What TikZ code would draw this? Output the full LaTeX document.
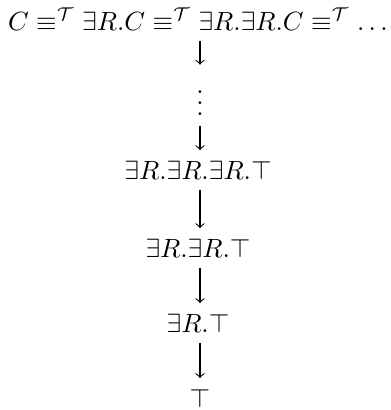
\documentclass[tikz,border=0pt]{standalone}
\begin{document}
\begin{tikzpicture}[x=0.379pt,y=-0.379pt,
  term/.style={anchor=base,inner sep=3.8pt},
  reduce/.style={->,line width=0.4pt}]
\useasboundingbox (0,0) rectangle (391,410);
% chain of equivalent concepts
\node[term] (eq) at (198,30) {$C \equiv^{\mathcal{T}} \exists R.C \equiv^{\mathcal{T}} \exists R.\exists R.C \equiv^{\mathcal{T}} \ldots$};
% descending sequence of generalisations
\node[term] (dots) at (200,115) {$\vdots$};
\node[term] (r3) at (198,179) {$\exists R.\exists R.\exists R.\top$};
\node[term] (r2) at (198,257) {$\exists R.\exists R.\top$};
\node[term] (r1) at (198,332) {$\exists R.\top$};
\node[term] (r0) at (200,407) {$\top$};
\draw[reduce] (eq.south -| dots) -- (dots.north);
\draw[reduce] (dots) -- (r3.north -| dots);
\draw[reduce] (r3.south -| dots) -- (r2.north -| dots);
\draw[reduce] (r2.south -| dots) -- (r1.north -| dots);
\draw[reduce] (r1.south -| dots) -- (r0.north);
\end{tikzpicture}
\end{document}
